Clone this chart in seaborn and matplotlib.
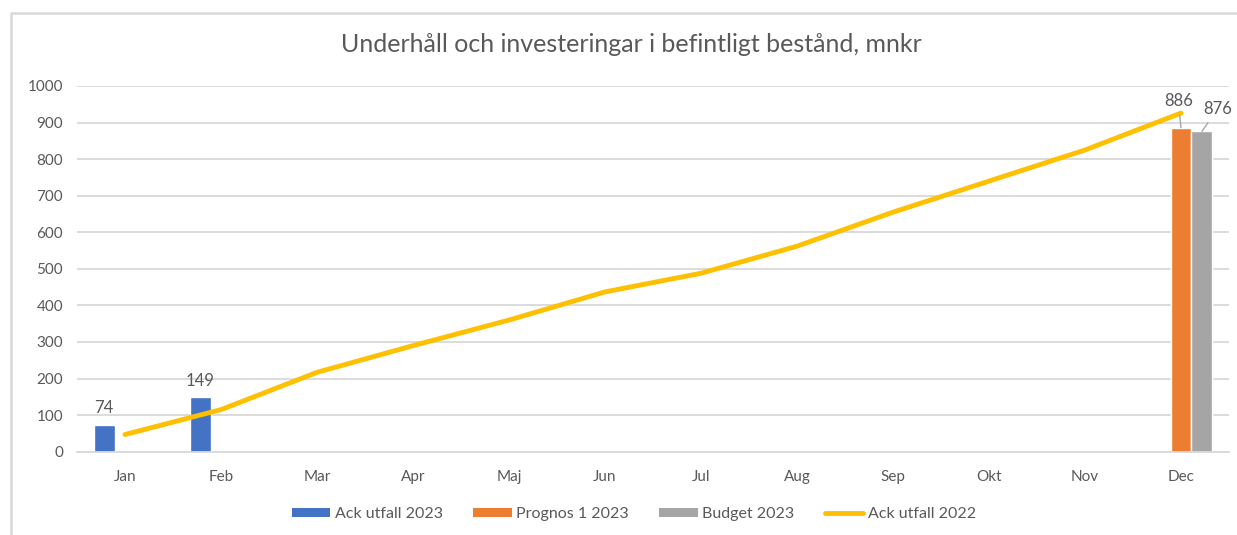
import numpy as np
import pandas as pd
import matplotlib
matplotlib.use("Agg")
import matplotlib.pyplot as plt
from matplotlib.patches import Patch
from matplotlib.lines import Line2D
import seaborn as sns

# data
months = ["Jan", "Feb", "Mar", "Apr", "Maj", "Jun", "Jul", "Aug", "Sep", "Okt", "Nov", "Dec"]
bar_series = ["Ack utfall 2023", "Prognos 1 2023", "Budget 2023"]
utfall_2023 = {"Jan": 74, "Feb": 149}
prognos_2023 = {"Dec": 886}
budget_2023 = {"Dec": 876}
utfall_2022 = [47, 115, 217, 290, 360, 437, 488, 562, 655, 740, 825, 926]

colors = {"Ack utfall 2023": "#4472C4", "Prognos 1 2023": "#ED7D31",
          "Budget 2023": "#A5A5A5"}
line_color = "#FFC000"
text_color = "#595959"
grid_color = "#D9D9D9"

rows = []
for name, vals in zip(bar_series, [utfall_2023, prognos_2023, budget_2023]):
    for m, v in vals.items():
        rows.append({"month": m, "series": name, "value": v})
bars_df = pd.DataFrame(rows)
line_df = pd.DataFrame({"pos": np.arange(len(months)), "value": utfall_2022})

sns.set_theme(style="white")
plt.rcParams["font.family"] = ["Lato", "DejaVu Sans"]

fig = plt.figure(figsize=(12.37, 5.35), dpi=100)
ax = fig.add_axes([77 / 1237, 1 - 451.7 / 535, 1152 / 1237, 365.7 / 535])

sns.barplot(data=bars_df, x="month", y="value", hue="series", order=months,
            hue_order=bar_series, palette=colors, width=0.656, saturation=1,
            ax=ax, legend=False, zorder=2)
sns.lineplot(data=line_df, x="pos", y="value", color=line_color, linewidth=3.5,
             ax=ax, zorder=3, solid_capstyle="round")

ax.set_xlim(-0.5, 11.5)
ax.set_ylim(0, 1000)
ax.set_yticks(range(0, 1001, 100))
ax.set_xlabel("")
ax.set_ylabel("")
ax.grid(axis="y", color=grid_color, linewidth=1.3, zorder=0)
ax.set_axisbelow(True)
for s in ["left", "right", "top"]:
    ax.spines[s].set_visible(False)
ax.spines["bottom"].set_color(grid_color)
ax.spines["bottom"].set_linewidth(1.3)
ax.tick_params(axis="both", length=0, labelsize=11, labelcolor=text_color)
ax.tick_params(axis="x", pad=13)
ax.tick_params(axis="y", pad=10)

# data labels
blue_bars = ax.containers[0]
ax.bar_label(blue_bars, fmt="%d", padding=6, fontsize=12, color=text_color)

for container, dx, dy in [(ax.containers[1], -2, 19), (ax.containers[2], 11, 16)]:
    for rect in container:
        h = rect.get_height()
        if np.isnan(h) or h == 0:
            continue
        x = rect.get_x() + rect.get_width() / 2
        ax.annotate(f"{h:.0f}", xy=(x, h), xytext=(dx, dy),
                    textcoords="offset points", ha="center", va="center",
                    fontsize=12, color=text_color,
                    arrowprops=dict(arrowstyle="-", color="#A6A6A6", lw=1,
                                    shrinkA=2, shrinkB=0))

fig.text(631 / 1237, 1 - 45 / 535, "Underhåll och investeringar i befintligt bestånd, mnkr",
         ha="center", va="center", fontsize=18, color=text_color)

handles = [Patch(facecolor=colors[s], edgecolor="none") for s in bar_series]
handles.append(Line2D([], [], color=line_color, linewidth=3.5, solid_capstyle="round"))
labels = bar_series + ["Ack utfall 2022"]
fig.legend(handles, labels, loc="center", bbox_to_anchor=(634 / 1237, 1 - 514 / 535),
           ncol=4, frameon=False, fontsize=11.5, labelcolor=text_color,
           handlelength=2.4, handleheight=0.5, handletextpad=0.3,
           columnspacing=1.9)

# chart area border (only left and top visible in the crop)
fig.add_artist(Line2D([11 / 1237, 11 / 1237, 1.0], [0.0, 1 - 13 / 535, 1 - 13 / 535],
                      transform=fig.transFigure, color=grid_color, linewidth=1.8))

fig.savefig("out.png", dpi=100)
